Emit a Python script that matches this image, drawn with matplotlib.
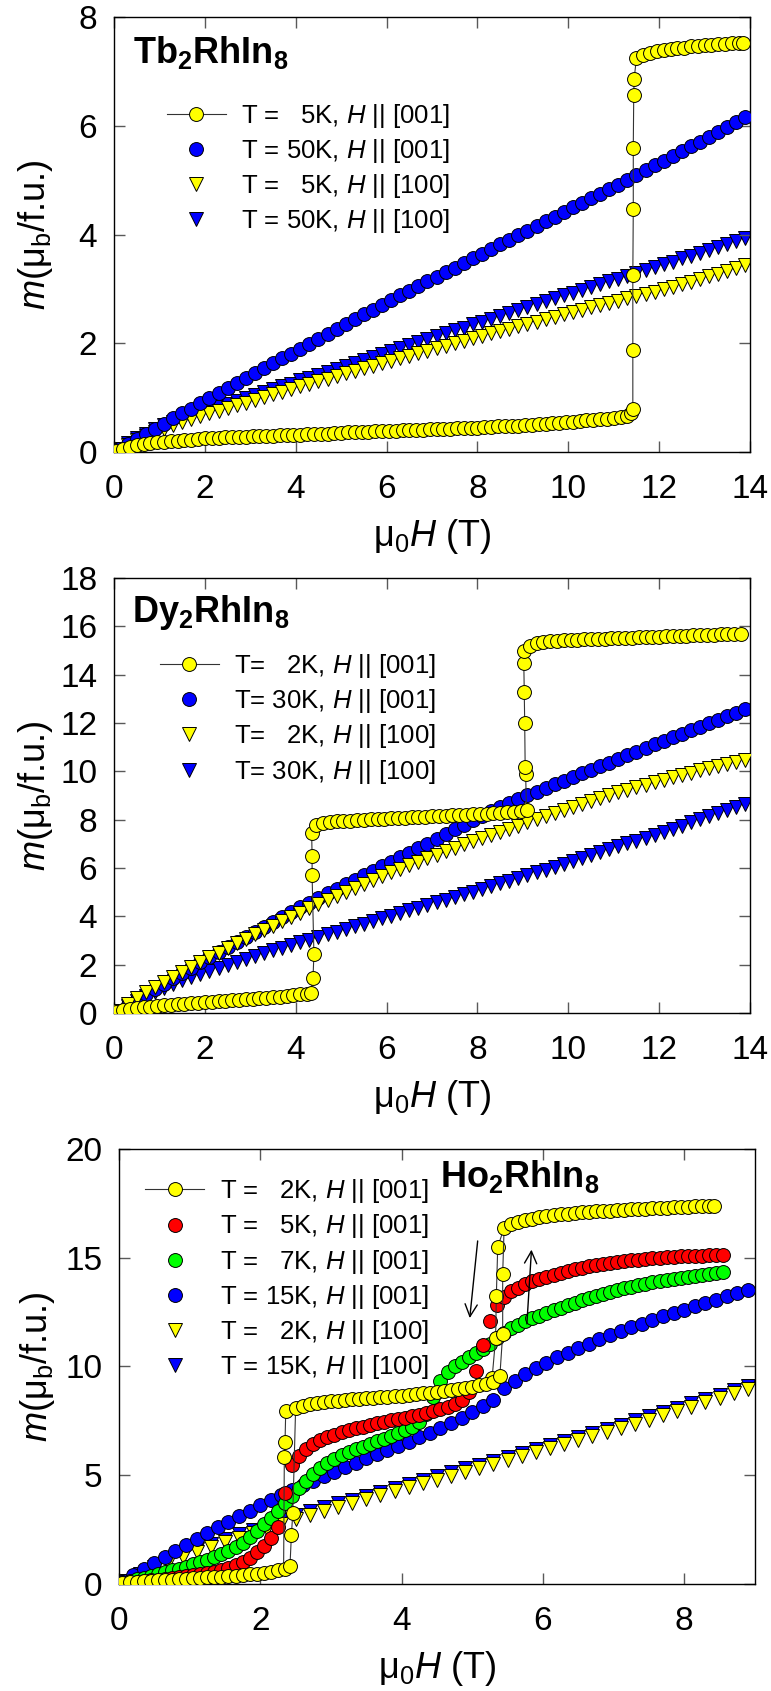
import matplotlib
matplotlib.use('Agg')
import matplotlib.pyplot as plt

plt.rcParams['font.family'] = ['Liberation Sans', 'DejaVu Sans']
plt.rcParams['mathtext.fontset'] = 'custom'
plt.rcParams['mathtext.rm'] = 'Liberation Sans'
plt.rcParams['mathtext.it'] = 'Liberation Sans:italic'
plt.rcParams['mathtext.bf'] = 'Liberation Sans:bold'

# ---------------- data: Tb2RhIn8 (panel 1) and Dy2RhIn8 (panel 2) ----------------
# common field grid (T) of the slow sweeps up to 14 T
H_14 = [0.1, 0.3, 0.5, 0.7, 0.9, 1.1, 1.3, 1.5, 1.7, 1.9,
        2.1, 2.3, 2.5, 2.7, 2.9, 3.1, 3.3, 3.5, 3.7, 3.9,
        4.1, 4.3, 4.5, 4.7, 4.9, 5.1, 5.3, 5.5, 5.7, 5.9,
        6.1, 6.3, 6.5, 6.7, 6.9, 7.1, 7.3, 7.5, 7.7, 7.9,
        8.1, 8.3, 8.5, 8.7, 8.9, 9.1, 9.3, 9.5, 9.7, 9.9,
        10.1, 10.3, 10.5, 10.7, 10.9, 11.1, 11.3, 11.5, 11.7, 11.9,
        12.1, 12.3, 12.5, 12.7, 12.9, 13.1, 13.3, 13.5, 13.7, 13.9]

tb50_001 = [0.05, 0.14, 0.24, 0.33, 0.43, 0.52, 0.62, 0.71, 0.80, 0.90,
            0.99, 1.08, 1.17, 1.27, 1.36, 1.45, 1.54, 1.63, 1.72, 1.81,
            1.90, 1.99, 2.08, 2.17, 2.26, 2.35, 2.44, 2.53, 2.61, 2.70,
            2.79, 2.88, 2.96, 3.05, 3.14, 3.22, 3.31, 3.39, 3.48, 3.56,
            3.65, 3.73, 3.82, 3.90, 3.99, 4.07, 4.16, 4.24, 4.33, 4.41,
            4.50, 4.58, 4.67, 4.75, 4.84, 4.92, 5.01, 5.10, 5.18, 5.27,
            5.36, 5.45, 5.53, 5.62, 5.71, 5.80, 5.89, 5.98, 6.07, 6.16]
tb50_100 = [0.05, 0.16, 0.26, 0.34, 0.42, 0.49, 0.55, 0.61, 0.67, 0.72,
            0.78, 0.83, 0.89, 0.94, 0.99, 1.05, 1.10, 1.16, 1.21, 1.26,
            1.32, 1.37, 1.42, 1.48, 1.53, 1.59, 1.64, 1.70, 1.75, 1.80,
            1.86, 1.91, 1.97, 2.02, 2.07, 2.13, 2.18, 2.24, 2.29, 2.35,
            2.40, 2.45, 2.51, 2.56, 2.61, 2.67, 2.72, 2.77, 2.83, 2.88,
            2.93, 2.98, 3.04, 3.09, 3.14, 3.19, 3.24, 3.30, 3.35, 3.40,
            3.45, 3.50, 3.56, 3.61, 3.66, 3.72, 3.77, 3.82, 3.88, 3.93]
tb5_100 = [0.04, 0.13, 0.22, 0.29, 0.37, 0.43, 0.49, 0.55, 0.60, 0.66,
           0.71, 0.76, 0.81, 0.86, 0.91, 0.96, 1.01, 1.06, 1.11, 1.16,
           1.21, 1.26, 1.30, 1.35, 1.40, 1.45, 1.49, 1.54, 1.59, 1.63,
           1.68, 1.73, 1.77, 1.82, 1.86, 1.91, 1.95, 2.00, 2.04, 2.09,
           2.13, 2.18, 2.22, 2.27, 2.31, 2.35, 2.40, 2.44, 2.48, 2.53,
           2.57, 2.61, 2.66, 2.70, 2.74, 2.78, 2.83, 2.87, 2.91, 2.95,
           3.00, 3.04, 3.09, 3.13, 3.18, 3.23, 3.28, 3.33, 3.39, 3.44]

# Tb2RhIn8, T = 5 K, H || [001]: low branch, metamagnetic jump, high branch
H_tb5_lo = [0.05, 0.2, 0.35, 0.5, 0.65, 0.8, 0.95, 1.1, 1.25, 1.4,
            1.55, 1.7, 1.85, 2.0, 2.15, 2.3, 2.45, 2.6, 2.75, 2.9,
            3.05, 3.2, 3.35, 3.5, 3.65, 3.8, 3.95, 4.1, 4.25, 4.4,
            4.55, 4.7, 4.85, 5.0, 5.15, 5.3, 5.45, 5.6, 5.75, 5.9,
            6.05, 6.2, 6.35, 6.5, 6.65, 6.8, 6.95, 7.1, 7.25, 7.4,
            7.55, 7.7, 7.85, 8.0, 8.15, 8.3, 8.45, 8.6, 8.75, 8.9,
            9.05, 9.2, 9.35, 9.5, 9.65, 9.8, 9.95, 10.1, 10.25, 10.4,
            10.55, 10.7, 10.85, 11.0, 11.15, 11.3]
M_tb5_lo = [0.02, 0.06, 0.09, 0.12, 0.14, 0.16, 0.18, 0.19, 0.20, 0.21,
            0.22, 0.23, 0.24, 0.25, 0.26, 0.26, 0.27, 0.27, 0.28, 0.28,
            0.29, 0.29, 0.30, 0.30, 0.31, 0.31, 0.32, 0.32, 0.33, 0.33,
            0.34, 0.34, 0.35, 0.35, 0.36, 0.36, 0.37, 0.37, 0.38, 0.38,
            0.39, 0.39, 0.40, 0.40, 0.41, 0.41, 0.42, 0.42, 0.43, 0.43,
            0.44, 0.44, 0.45, 0.45, 0.46, 0.46, 0.47, 0.47, 0.48, 0.48,
            0.49, 0.50, 0.51, 0.52, 0.53, 0.54, 0.55, 0.56, 0.57, 0.58,
            0.59, 0.60, 0.61, 0.62, 0.64, 0.66]
H_tb5_jump = [11.38, 11.42, 11.42, 11.42, 11.43, 11.43, 11.44, 11.45]
M_tb5_jump = [0.72, 0.80, 1.88, 3.25, 4.47, 5.60, 6.57, 6.87]
H_tb5_hi = [11.5, 11.65, 11.8, 11.95, 12.1, 12.25, 12.4, 12.55, 12.7, 12.85,
            13.0, 13.15, 13.3, 13.45, 13.6, 13.75, 13.85]
M_tb5_hi = [7.25, 7.30, 7.34, 7.37, 7.39, 7.41, 7.43, 7.44, 7.46, 7.47,
            7.48, 7.49, 7.50, 7.51, 7.52, 7.53, 7.53]

dy30_001 = [0.10, 0.32, 0.55, 0.78, 1.00, 1.22, 1.44, 1.66, 1.88, 2.10,
            2.31, 2.52, 2.73, 2.94, 3.15, 3.36, 3.56, 3.77, 3.97, 4.17,
            4.37, 4.57, 4.76, 4.95, 5.14, 5.33, 5.51, 5.70, 5.88, 6.07,
            6.25, 6.44, 6.63, 6.82, 7.01, 7.20, 7.40, 7.60, 7.79, 7.98,
            8.17, 8.35, 8.53, 8.70, 8.86, 9.02, 9.17, 9.32, 9.47, 9.62,
            9.77, 9.92, 10.07, 10.22, 10.37, 10.52, 10.67, 10.82, 10.97, 11.12,
            11.27, 11.42, 11.56, 11.71, 11.85, 12.00, 12.14, 12.29, 12.43, 12.57]
dy2_100 = [0.10, 0.38, 0.62, 0.86, 1.08, 1.30, 1.51, 1.71, 1.91, 2.11,
           2.31, 2.50, 2.69, 2.88, 3.07, 3.26, 3.44, 3.62, 3.80, 3.98,
           4.16, 4.33, 4.50, 4.67, 4.84, 5.01, 5.18, 5.34, 5.50, 5.66,
           5.82, 5.97, 6.12, 6.27, 6.42, 6.56, 6.70, 6.84, 6.98, 7.11,
           7.24, 7.37, 7.50, 7.63, 7.76, 7.89, 8.02, 8.15, 8.28, 8.41,
           8.53, 8.65, 8.77, 8.89, 9.01, 9.13, 9.24, 9.35, 9.46, 9.56,
           9.66, 9.76, 9.86, 9.95, 10.04, 10.13, 10.22, 10.31, 10.40, 10.49]
dy30_100 = [0.08, 0.30, 0.50, 0.69, 0.87, 1.04, 1.20, 1.35, 1.49, 1.62,
            1.75, 1.88, 2.00, 2.12, 2.24, 2.36, 2.48, 2.60, 2.71, 2.82,
            2.93, 3.04, 3.15, 3.26, 3.37, 3.48, 3.59, 3.70, 3.81, 3.92,
            4.03, 4.14, 4.25, 4.36, 4.47, 4.58, 4.69, 4.80, 4.91, 5.02,
            5.14, 5.25, 5.37, 5.48, 5.60, 5.71, 5.83, 5.94, 6.06, 6.18,
            6.30, 6.42, 6.54, 6.66, 6.78, 6.90, 7.02, 7.14, 7.26, 7.38,
            7.50, 7.63, 7.76, 7.89, 8.02, 8.15, 8.28, 8.41, 8.54, 8.67]

# Dy2RhIn8, T = 2 K, H || [001]: two metamagnetic steps
H_dy2_lo = [0.05, 0.2, 0.35, 0.5, 0.65, 0.8, 0.95, 1.1, 1.25, 1.4,
            1.55, 1.7, 1.85, 2.0, 2.15, 2.3, 2.45, 2.6, 2.75, 2.9,
            3.05, 3.2, 3.35, 3.5, 3.65, 3.8, 3.95, 4.1, 4.25, 4.33]
M_dy2_lo = [0.05, 0.12, 0.17, 0.21, 0.24, 0.27, 0.30, 0.33, 0.35, 0.37,
            0.39, 0.41, 0.43, 0.45, 0.47, 0.49, 0.51, 0.53, 0.55, 0.57,
            0.59, 0.61, 0.63, 0.65, 0.67, 0.70, 0.73, 0.77, 0.81, 0.85]
H_dy2_jump1 = [4.38, 4.40, 4.36, 4.36, 4.35]
M_dy2_jump1 = [1.44, 2.44, 5.70, 6.50, 7.45]
H_dy2_mid = [4.45, 4.6, 4.75, 4.9, 5.05, 5.2, 5.35, 5.5, 5.65, 5.8,
             5.95, 6.1, 6.25, 6.4, 6.55, 6.7, 6.85, 7.0, 7.15, 7.3,
             7.45, 7.6, 7.75, 7.9, 8.05, 8.2, 8.35, 8.5, 8.65, 8.8,
             8.95, 9.08]
M_dy2_mid = [7.78, 7.86, 7.90, 7.93, 7.95, 7.97, 7.99, 8.00, 8.02, 8.03,
             8.04, 8.06, 8.07, 8.08, 8.10, 8.11, 8.12, 8.14, 8.15, 8.16,
             8.18, 8.19, 8.20, 8.22, 8.23, 8.25, 8.27, 8.29, 8.31, 8.34,
             8.37, 8.42]
H_dy2_jump2 = [9.06, 9.05, 9.04, 9.03, 9.02, 9.03]
M_dy2_jump2 = [9.9, 10.2, 12.0, 13.3, 14.5, 15.0]
H_dy2_hi = [9.15, 9.3, 9.45, 9.6, 9.75, 9.9, 10.05, 10.2, 10.35, 10.5,
            10.65, 10.8, 10.95, 11.1, 11.25, 11.4, 11.55, 11.7, 11.85, 12.0,
            12.15, 12.3, 12.45, 12.6, 12.75, 12.9, 13.05, 13.2, 13.35, 13.5,
            13.65, 13.8]
M_dy2_hi = [15.20, 15.30, 15.35, 15.38, 15.40, 15.42, 15.44, 15.45, 15.47, 15.48,
            15.49, 15.50, 15.51, 15.52, 15.53, 15.54, 15.55, 15.56, 15.57, 15.58,
            15.59, 15.60, 15.61, 15.62, 15.63, 15.64, 15.65, 15.66, 15.67, 15.68,
            15.69, 15.70]

# ---------------- data: Ho2RhIn8 (panel 3) ----------------
H_9 = [0.1, 0.3, 0.5, 0.7, 0.9, 1.1, 1.3, 1.5, 1.7, 1.9,
       2.1, 2.3, 2.5, 2.7, 2.9, 3.1, 3.3, 3.5, 3.7, 3.9,
       4.1, 4.3, 4.5, 4.7, 4.9, 5.1, 5.3, 5.5, 5.7, 5.9,
       6.1, 6.3, 6.5, 6.7, 6.9, 7.1, 7.3, 7.5, 7.7, 7.9,
       8.1, 8.3, 8.5, 8.7, 8.9]
ho15_100 = [0.15, 0.47, 0.78, 1.08, 1.36, 1.62, 1.86, 2.08, 2.28, 2.48,
            2.68, 2.92, 3.15, 3.34, 3.52, 3.70, 3.88, 4.06, 4.24, 4.42,
            4.60, 4.78, 4.95, 5.13, 5.31, 5.49, 5.67, 5.85, 6.03, 6.21,
            6.39, 6.58, 6.76, 6.95, 7.14, 7.33, 7.52, 7.71, 7.91, 8.11,
            8.31, 8.51, 8.71, 8.91, 9.11]
ho2_100 = [0.05, 0.36, 0.66, 0.95, 1.22, 1.47, 1.71, 1.93, 2.13, 2.33,
           2.53, 2.76, 2.99, 3.18, 3.37, 3.55, 3.73, 3.91, 4.09, 4.27,
           4.45, 4.63, 4.80, 4.98, 5.16, 5.34, 5.52, 5.70, 5.88, 6.06,
           6.24, 6.43, 6.61, 6.80, 6.99, 7.18, 7.37, 7.56, 7.76, 7.96,
           8.16, 8.36, 8.56, 8.76, 8.96]

H_ho15 = [0.05, 0.2, 0.35, 0.5, 0.65, 0.8, 0.95, 1.1, 1.25, 1.4,
          1.55, 1.7, 1.85, 2.0, 2.15, 2.3, 2.45, 2.6, 2.75, 2.9,
          3.05, 3.2, 3.35, 3.5, 3.65, 3.8, 3.95, 4.1, 4.25, 4.4,
          4.55, 4.7, 4.85, 5.0, 5.15, 5.3, 5.45, 5.6, 5.75, 5.9,
          6.05, 6.2, 6.35, 6.5, 6.65, 6.8, 6.95, 7.1, 7.25, 7.4,
          7.55, 7.7, 7.85, 8.0, 8.15, 8.3, 8.45, 8.6, 8.75, 8.9]
ho15_001 = [0.10, 0.39, 0.68, 0.97, 1.25, 1.53, 1.81, 2.08, 2.35, 2.61,
            2.87, 3.12, 3.37, 3.61, 3.85, 4.08, 4.31, 4.53, 4.75, 4.96,
            5.17, 5.38, 5.58, 5.78, 5.97, 6.16, 6.35, 6.54, 6.74, 6.95,
            7.17, 7.40, 7.65, 7.91, 8.18, 8.46, 9.00, 9.35, 9.65, 9.93,
            10.18, 10.42, 10.64, 10.85, 11.05, 11.25, 11.44, 11.62, 11.80, 11.97,
            12.14, 12.30, 12.46, 12.62, 12.78, 12.93, 13.08, 13.23, 13.38, 13.53]

H_ho_fine = [0.05, 0.15, 0.25, 0.35, 0.45, 0.55, 0.65, 0.75, 0.85, 0.95,
             1.05, 1.15, 1.25, 1.35, 1.45, 1.55, 1.65, 1.75, 1.85, 1.95,
             2.05, 2.15, 2.25, 2.35, 2.45, 2.55, 2.65, 2.75, 2.85, 2.95,
             3.05, 3.15, 3.25, 3.35, 3.45, 3.55, 3.65, 3.75, 3.85, 3.95,
             4.05, 4.15, 4.25, 4.35, 4.45, 4.55, 4.65, 4.75, 4.85, 4.95,
             5.05, 5.15, 5.25, 5.35, 5.45, 5.55, 5.65, 5.75, 5.85, 5.95,
             6.05, 6.15, 6.25, 6.35, 6.45, 6.55, 6.65, 6.75, 6.85, 6.95,
             7.05, 7.15, 7.25, 7.35, 7.45, 7.55, 7.65, 7.75, 7.85, 7.95,
             8.05, 8.15, 8.25, 8.35, 8.45, 8.55]
ho5_001 = [0.04, 0.07, 0.10, 0.13, 0.16, 0.20, 0.24, 0.28, 0.32, 0.37,
           0.42, 0.47, 0.52, 0.57, 0.62, 0.72, 0.85, 1.00, 1.20, 1.45,
           1.75, 2.10, 2.60, 4.20, 5.45, 5.90, 6.20, 6.42, 6.60, 6.75,
           6.87, 6.98, 7.07, 7.16, 7.24, 7.31, 7.38, 7.45, 7.52, 7.58,
           7.64, 7.71, 7.78, 7.86, 7.94, 8.03, 8.14, 8.28, 8.48, 8.85,
           9.80, 11.00, 12.10, 12.85, 13.20, 13.45, 13.63, 13.78, 13.91, 14.03,
           14.13, 14.23, 14.32, 14.40, 14.48, 14.55, 14.61, 14.67, 14.72, 14.77,
           14.81, 14.85, 14.89, 14.92, 14.95, 14.98, 15.00, 15.02, 15.04, 15.06,
           15.08, 15.09, 15.10, 15.11, 15.12, 15.13]
ho7_001 = [0.05, 0.13, 0.21, 0.29, 0.37, 0.45, 0.53, 0.62, 0.71, 0.80,
           0.90, 1.00, 1.11, 1.23, 1.36, 1.50, 1.68, 1.90, 2.15, 2.45,
           2.75, 3.05, 3.35, 3.70, 4.05, 4.40, 4.75, 5.05, 5.32, 5.55,
           5.75, 5.92, 6.07, 6.20, 6.32, 6.44, 6.56, 6.68, 6.80, 6.93,
           7.07, 7.23, 7.45, 7.80, 8.60, 9.35, 9.75, 10.00, 10.22, 10.42,
           10.60, 10.80, 11.02, 11.30, 11.55, 11.75, 11.92, 12.07, 12.21, 12.34,
           12.46, 12.58, 12.70, 12.82, 12.93, 13.04, 13.14, 13.24, 13.33, 13.42,
           13.51, 13.59, 13.67, 13.74, 13.81, 13.87, 13.93, 13.98, 14.03, 14.08,
           14.13, 14.17, 14.21, 14.25, 14.29, 14.33]

# Ho2RhIn8, T = 2 K, H || [001]: field-up sweep
H_ho2_lo = [0.05, 0.15, 0.25, 0.35, 0.45, 0.55, 0.65, 0.75, 0.85, 0.95,
            1.05, 1.15, 1.25, 1.35, 1.45, 1.55, 1.65, 1.75, 1.85, 1.95,
            2.05, 2.15, 2.25, 2.35, 2.42]
M_ho2_lo = [0.05, 0.08, 0.10, 0.12, 0.14, 0.16, 0.18, 0.20, 0.22, 0.24,
            0.26, 0.28, 0.30, 0.32, 0.34, 0.36, 0.38, 0.41, 0.44, 0.47,
            0.51, 0.56, 0.62, 0.70, 0.83]
H_ho2_jump1 = [2.44, 2.46]
M_ho2_jump1 = [2.25, 3.26]
H_ho2_mid = [2.5, 2.6, 2.7, 2.8, 2.9, 3.0, 3.1, 3.2, 3.3, 3.4,
             3.5, 3.6, 3.7, 3.8, 3.9, 4.0, 4.1, 4.2, 4.3, 4.4,
             4.5, 4.6, 4.7, 4.8, 4.9, 5.0, 5.1, 5.2, 5.3]
M_ho2_mid = [8.10, 8.20, 8.27, 8.32, 8.36, 8.40, 8.43, 8.46, 8.49, 8.52,
             8.54, 8.57, 8.59, 8.61, 8.63, 8.65, 8.68, 8.72, 8.76, 8.80,
             8.84, 8.88, 8.92, 8.97, 9.02, 9.07, 9.13, 9.20, 9.30]
H_ho2_jump2 = [5.39, 5.43, 5.43]
M_ho2_jump2 = [9.56, 11.5, 14.25]
H_ho2_hi = [5.45, 5.55, 5.65, 5.75, 5.85, 5.95, 6.05, 6.15, 6.25, 6.35,
            6.45, 6.55, 6.65, 6.75, 6.85, 6.95, 7.05, 7.15, 7.25, 7.35,
            7.45, 7.55, 7.65, 7.75, 7.85, 7.95, 8.05, 8.15, 8.25, 8.35, 8.42]
M_ho2_hi = [16.37, 16.55, 16.65, 16.74, 16.80, 16.86, 16.91, 16.95, 16.99, 17.03,
            17.06, 17.09, 17.11, 17.13, 17.15, 17.17, 17.19, 17.21, 17.23, 17.24,
            17.26, 17.27, 17.29, 17.30, 17.32, 17.33, 17.35, 17.36, 17.38, 17.39, 17.40]
# field-down sweep (hysteresis), only the jump points
H_ho2_dn_hi = [5.45, 5.36, 5.34, 5.33, 5.28, 5.2]
M_ho2_dn_hi = [16.37, 15.5, 13.24, 11.3, 9.46, 9.2]
H_ho2_dn_lo = [2.5, 2.36, 2.35, 2.34, 2.33]
M_ho2_dn_lo = [8.10, 7.96, 6.54, 5.84, 0.75]

# legend labels
tb_labels = ['T =   5K, $H$ || [001]', 'T = 50K, $H$ || [001]',
             'T =   5K, $H$ || [100]', 'T = 50K, $H$ || [100]']
dy_labels = ['T=   2K, $H$ || [001]', 'T= 30K, $H$ || [001]',
             'T=   2K, $H$ || [100]', 'T= 30K, $H$ || [100]']
ho_labels = ['T =   2K, $H$ || [001]', 'T =   5K, $H$ || [001]',
             'T =   7K, $H$ || [001]', 'T = 15K, $H$ || [001]',
             'T =   2K, $H$ || [100]', 'T = 15K, $H$ || [100]']

YEL, BLU, RED, GRN = '#FFFF00', '#0000FF', '#FF0000', '#00FF00'
MS = 10


def pts(ax, x, y, color, marker='o', z=2, line=False, **kw):
    ls = '-' if line else 'none'
    return ax.plot(x, y, marker=marker, linestyle=ls, color='0.2', lw=0.8,
                   mfc=color, mec='k', mew=0.7, ms=MS if marker == 'o' else MS - 0.5,
                   zorder=z, **kw)[0]


def style(ax, xmax, xticks, ymax, yticks, ylab_x):
    ax.set_xlim(0, xmax)
    ax.set_ylim(0, ymax)
    ax.set_xticks(xticks)
    ax.set_yticks(yticks)
    ax.tick_params(direction='in', top=True, right=True, length=8, width=1,
                   color='0.35', labelsize=24)
    ax.tick_params(axis='x', pad=16)
    ax.tick_params(axis='y', pad=12)
    for s in ax.spines.values():
        s.set_linewidth(1.0)
    ax.set_xlabel(r'μ$_0H$ (T)', fontsize=26, va='top')
    ax.xaxis.set_label_coords(0.5, -0.15)
    ax.set_ylabel(r'$m$(μ$_\mathrm{b}$/f.u.)', fontsize=26)
    ax.yaxis.set_label_coords(ylab_x, 0.5)


def legend(ax, handles, labels, x, y):
    ax.legend(handles, labels, loc='upper left', bbox_to_anchor=(x, y),
              frameon=False, fontsize=18.5, handlelength=2.3, handletextpad=0.6,
              labelspacing=0.28, borderpad=0, borderaxespad=0, numpoints=1)


fig = plt.figure(figsize=(7.71, 16.91), dpi=100)

# ---------------- panel 1: Tb2RhIn8 ----------------
ax1 = fig.add_axes([0.1479, 0.7327, 0.8249, 0.2572])
h4 = pts(ax1, H_14, tb50_100, BLU, 'v', z=1)
h3 = pts(ax1, H_14, tb5_100, YEL, 'v', z=2)
h2 = pts(ax1, H_14, tb50_001, BLU, 'o', z=3)
h1 = pts(ax1, H_tb5_lo + H_tb5_jump + H_tb5_hi, M_tb5_lo + M_tb5_jump + M_tb5_hi,
         YEL, 'o', z=4, line=True)
style(ax1, 14, range(0, 15, 2), 8, range(0, 9, 2), -0.093)
legend(ax1, [h1, h2, h3, h4], tb_labels, 0.083, 0.805)
ax1.text(0.03, 0.894, r'$\mathbf{Tb_2RhIn_8}$', transform=ax1.transAxes,
         fontsize=26, va='baseline')

# ---------------- panel 2: Dy2RhIn8 ----------------
ax2 = fig.add_axes([0.1479, 0.4009, 0.8249, 0.2572])
h4 = pts(ax2, H_14, dy30_100, BLU, 'v', z=1)
h2 = pts(ax2, H_14, dy30_001, BLU, 'o', z=2)
h3 = pts(ax2, H_14, dy2_100, YEL, 'v', z=3)
h1 = pts(ax2, H_dy2_lo + H_dy2_jump1 + H_dy2_mid + H_dy2_jump2 + H_dy2_hi,
         M_dy2_lo + M_dy2_jump1 + M_dy2_mid + M_dy2_jump2 + M_dy2_hi,
         YEL, 'o', z=4, line=True)
style(ax2, 14, range(0, 15, 2), 18, range(0, 19, 2), -0.093)
legend(ax2, [h1, h2, h3, h4], dy_labels, 0.072, 0.83)
ax2.text(0.028, 0.9, r'$\mathbf{Dy_2RhIn_8}$', transform=ax2.transAxes,
         fontsize=26, va='baseline')

# ---------------- panel 3: Ho2RhIn8 ----------------
ax3 = fig.add_axes([0.1543, 0.0633, 0.8249, 0.2572])
h6 = pts(ax3, H_9, ho15_100, BLU, 'v', z=1)
h5 = pts(ax3, H_9, ho2_100, YEL, 'v', z=2)
h4 = pts(ax3, H_ho15, ho15_001, BLU, 'o', z=3)
h3 = pts(ax3, H_ho_fine, ho7_001, GRN, 'o', z=4)
h2 = pts(ax3, H_ho_fine, ho5_001, RED, 'o', z=5)
pts(ax3, H_ho2_dn_hi, M_ho2_dn_hi, YEL, 'o', z=6, line=True, markevery=[1, 2, 3, 4])
pts(ax3, H_ho2_dn_lo, M_ho2_dn_lo, YEL, 'o', z=6, line=True, markevery=[1, 2, 3])
h1 = pts(ax3, H_ho2_lo + H_ho2_jump1 + H_ho2_mid + H_ho2_jump2 + H_ho2_hi,
         M_ho2_lo + M_ho2_jump1 + M_ho2_mid + M_ho2_jump2 + M_ho2_hi,
         YEL, 'o', z=7, line=True)
style(ax3, 9, range(0, 9, 2), 20, range(0, 21, 5), -0.097)
legend(ax3, [h1, h2, h3, h4, h5, h6], ho_labels, 0.041, 0.935)
ax3.text(0.504, 0.913, r'$\mathbf{Ho_2RhIn_8}$', transform=ax3.transAxes,
         fontsize=26, va='baseline')

# sweep direction arrows
ax3.annotate('', xy=(4.96, 12.1), xytext=(5.08, 15.9),
             arrowprops=dict(arrowstyle='->', lw=1, color='k', mutation_scale=22), zorder=8)
ax3.annotate('', xy=(5.84, 15.5), xytext=(5.77, 11.83),
             arrowprops=dict(arrowstyle='->', lw=1, color='k', mutation_scale=22), zorder=8)

fig.savefig('out.png', dpi=100)
